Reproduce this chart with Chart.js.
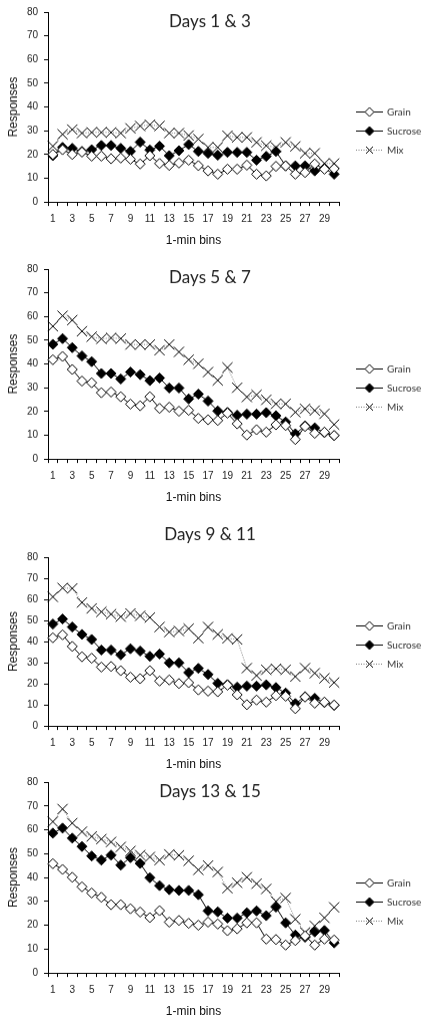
<!DOCTYPE html>
<html>
<head>
<meta charset="utf-8">
<script src="https://cdn.jsdelivr.net/npm/chart.js@4.4.0/dist/chart.umd.min.js"></script>
<style>
  html, body { margin: 0; padding: 0; background: #fff; }
  #page { position: relative; width: 427px; height: 1023px; overflow: hidden; }
  .panel { position: absolute; left: 0; width: 427px; }
</style>
</head>
<body>
<div id="page"></div>
<script>
// 1-min bins
var bins = ['1','2','3','4','5','6','7','8','9','10','11','12','13','14','15',
            '16','17','18','19','20','21','22','23','24','25','26','27','28','29','30'];

var titles = ['Days 1 & 3', 'Days 5 & 7', 'Days 9 & 11', 'Days 13 & 15'];

// Days 1 & 3
var grain1   = [20, 22, 20, 21, 19.3, 19.3, 18.2, 18.5, 18, 16, 19.5, 16.2, 15.4, 16.4, 17.6,
                15.3, 13.1, 11.7, 13.8, 13.8, 15.5, 11.7, 11, 15, 15.2, 11.7, 12.4, 16, 13.8, 14];
var sucrose1 = [19.5, 23, 22.6, 21.3, 22, 23.8, 23.8, 22.6, 21.3, 25.2, 21.9, 23.5, 19.5, 21.6, 24.2,
                21.3, 20.5, 19.7, 20.9, 20.9, 20.9, 17.6, 19.2, 21.3, 15.2, 15.2, 15.2, 13.1, 14.1, 11.7];
var mix1     = [23.5, 28.5, 30.5, 29, 29.3, 29.3, 29.3, 29, 31, 32, 32.5, 32, 29, 29, 28,
                26.5, 23, 23, 27.9, 27.2, 27.2, 25.1, 23.7, 23, 25.1, 23.4, 20.5, 20.5, 16.2, 16.2];

// Days 5 & 7
var grain2   = [41.8, 43.2, 37.7, 32.8, 32.1, 27.9, 28.2, 26.2, 23.1, 22.4, 26.2, 21.3, 21.8, 20.1, 20.5,
                17.1, 16.5, 16.2, 19.3, 14.8, 10.1, 12.3, 11.3, 14.4, 14.1, 8.2, 13.7, 10.8, 11.3, 9.9];
var sucrose2 = [48.3, 50.7, 46.9, 43.4, 41, 36, 36, 33.7, 36.6, 35.5, 33, 34.1, 29.9, 29.9, 25.3,
                27.3, 24.4, 20.2, 19.6, 18.4, 18.9, 18.9, 19.5, 18.2, 15.6, 10.6, 13.9, 13.1, 11.1, 9.8];
var mix2     = [55.9, 60.3, 58.5, 53.8, 51.5, 50.6, 51, 50.7, 48.2, 48.2, 48.2, 45.8, 48.2, 45.1, 41.8,
                40.1, 36.6, 33.1, 38.5, 30, 26.1, 27, 24.9, 23.2, 23.2, 19.7, 21.1, 20.4, 19, 14.5];

// Days 9 & 11
var grain3   = [41.8, 43.2, 37.7, 32.8, 32.1, 27.9, 28.2, 26.2, 23.1, 22.4, 26.2, 21.3, 21.8, 20.1, 20.5,
                17.1, 16.5, 16.2, 19.3, 14.8, 10.1, 12.3, 11.3, 14.4, 14.1, 8.2, 13.7, 10.8, 11.3, 9.9];
var sucrose3 = [48.3, 50.7, 46.9, 43.4, 41, 36, 36, 33.7, 36.6, 35.5, 33, 34.1, 29.9, 29.9, 25.3,
                27.3, 24.4, 20.2, 19.6, 18.4, 18.9, 18.9, 19.5, 18.2, 15.6, 10.6, 13.9, 13.1, 11.1, 9.8];
var mix3     = [61.2, 65.4, 65.2, 58.5, 55.7, 54.1, 53, 51.8, 53.3, 52.2, 51.4, 46.9, 44.5, 45, 46.1,
                41.6, 46.9, 43.4, 41.5, 41, 27.4, 23.9, 26.6, 27.1, 26.6, 23.4, 27.4, 25, 22.6, 20.6];

// Days 13 & 15
var grain4   = [45.8, 43.4, 40.1, 36.1, 33.5, 31.7, 28.6, 28.6, 26.9, 25.5, 23.2, 26.1, 21.3, 22, 20.8,
                20, 21.3, 20.5, 17.7, 18.5, 21, 21, 14.2, 14, 11.7, 13.6, 15.5, 11.7, 14.2, 13.8];
var sucrose4 = [58.6, 60.7, 56.5, 53, 49, 47.3, 49.4, 45.2, 48.3, 45.9, 39.9, 36.6, 34.9, 34.6, 34.6,
                32.8, 26, 25.6, 23, 23, 25.2, 26, 24, 27.6, 21, 15.9, 15, 17.2, 17.8, 12.6];
var mix4     = [63.4, 68.7, 62.8, 59.2, 57.2, 56.1, 54.9, 52.8, 51.1, 49.4, 48.6, 47.3, 49.7, 49.3, 47,
                43.2, 45, 42.3, 35.5, 37.8, 40.1, 37.4, 35.2, 30, 31.4, 22.5, 17, 19.7, 23.1, 27.5];

var yTicks = { min: 0, max: 80, step: 10 };

var grains   = [grain1, grain2, grain3, grain4];
var sucroses = [sucrose1, sucrose2, sucrose3, sucrose4];
var mixes    = [mix1, mix2, mix3, mix4];

// where each panel sits on the page
var panels = [
  { top: 0,   height: 246.5, padTop: 12, titleY: 22, legendY: 111.5 },
  { top: 257, height: 246.5, padTop: 12, titleY: 21, legendY: 111.5 },
  { top: 517, height: 253.5, padTop: 40, titleY: 18, legendY: 108.5 },
  { top: 770, height: 247.5, padTop: 12, titleY: 22, legendY: 112.5 }
];

var axisFont = 'Liberation Sans, Arial, sans-serif';

// panel title inside the plot and the line+marker legend on the right
var panelDecor = {
  id: 'panelDecor',
  afterDraw: function(chart, args, opts) {
    var ctx = chart.ctx;
    ctx.save();
    ctx.fillStyle = '#222';
    ctx.font = '17px Lato';
    ctx.textAlign = 'center';
    ctx.textBaseline = 'middle';
    ctx.fillText(opts.title, 210, opts.titleY);

    ctx.font = '10px Lato';
    ctx.textAlign = 'left';
    chart.data.datasets.forEach(function(ds, k) {
      var y = opts.legendY + k * 19;
      ctx.lineWidth = 1;
      ctx.strokeStyle = ds.borderColor;
      ctx.setLineDash(ds.borderDash || []);
      ctx.beginPath();
      ctx.moveTo(356, y);
      ctx.lineTo(383, y);
      ctx.stroke();
      ctx.setLineDash([]);
      var cx = 369.5;
      ctx.strokeStyle = '#000';
      ctx.beginPath();
      if (ds.pointStyle === 'crossRot') {
        ctx.moveTo(cx - 3.5, y - 3.5); ctx.lineTo(cx + 3.5, y + 3.5);
        ctx.moveTo(cx + 3.5, y - 3.5); ctx.lineTo(cx - 3.5, y + 3.5);
        ctx.stroke();
      } else {
        ctx.moveTo(cx - 4.5, y); ctx.lineTo(cx, y - 4.5); ctx.lineTo(cx + 4.5, y); ctx.lineTo(cx, y + 4.5);
        ctx.closePath();
        ctx.fillStyle = ds.pointBackgroundColor;
        ctx.fill();
        ctx.stroke();
      }
      ctx.fillStyle = '#333';
      ctx.fillText(ds.label, 387, y);
    });
    ctx.restore();
  }
};

function makePanel(i) {
  var p = panels[i];
  var div = document.createElement('div');
  div.className = 'panel';
  div.style.top = p.top + 'px';
  div.style.height = p.height + 'px';
  var cv = document.createElement('canvas');
  div.appendChild(cv);
  document.getElementById('page').appendChild(div);

  new Chart(cv.getContext('2d'), {
    type: 'line',
    data: {
      labels: bins,
      datasets: [{
        label: 'Grain',
        data: grains[i],
        borderColor: '#000',
        borderWidth: 1,
        pointStyle: 'rectRot',
        pointRadius: 5,
        pointBackgroundColor: '#fff',
        pointBorderColor: '#000',
        pointBorderWidth: 1
      }, {
        label: 'Sucrose',
        data: sucroses[i],
        borderColor: '#000',
        borderWidth: 1,
        pointStyle: 'rectRot',
        pointRadius: 5,
        pointBackgroundColor: '#000',
        pointBorderColor: '#000',
        pointBorderWidth: 1
      }, {
        label: 'Mix',
        data: mixes[i],
        borderColor: '#777',
        borderWidth: 1,
        borderDash: [1, 1.5],
        pointStyle: 'crossRot',
        pointRadius: 7.2,
        pointBackgroundColor: '#000',
        pointBorderColor: '#000',
        pointBorderWidth: 1
      }]
    },
    options: {
      responsive: true,
      maintainAspectRatio: false,
      animation: false,
      devicePixelRatio: 1,
      layout: { padding: { left: 0, right: 88, top: p.padTop, bottom: 0 } },
      plugins: {
        legend: { display: false },
        tooltip: { enabled: false },
        panelDecor: { title: titles[i], titleY: p.titleY, legendY: p.legendY }
      },
      scales: {
        x: {
          offset: true,
          grid: { offset: true, drawOnChartArea: false, drawTicks: true, tickLength: 4, color: '#000' },
          border: { color: '#000', width: 1 },
          ticks: {
            autoSkip: false, maxRotation: 0, padding: 7, color: '#222',
            font: { family: axisFont, size: 10 },
            callback: function(v, idx) { return idx % 2 === 0 ? this.getLabelForValue(v) : ''; }
          },
          title: {
            display: true, text: '1-min bins', color: '#111',
            font: { family: axisFont, size: 12 }, padding: { top: 1, bottom: 0 }
          }
        },
        y: {
          min: yTicks.min, max: yTicks.max,
          grid: { drawOnChartArea: false, drawTicks: true, tickLength: 4, color: '#000' },
          border: { color: '#000', width: 1 },
          ticks: {
            stepSize: yTicks.step, padding: 6, color: '#222',
            font: { family: axisFont, size: 10 }
          },
          title: {
            display: true, text: 'Responses', color: '#111',
            font: { family: axisFont, size: 12 }, padding: { top: 6, bottom: 0.5 }
          }
        }
      }
    },
    plugins: [panelDecor]
  });
}

for (var i = 0; i < 4; i++) makePanel(i);
</script>
</body>
</html>
